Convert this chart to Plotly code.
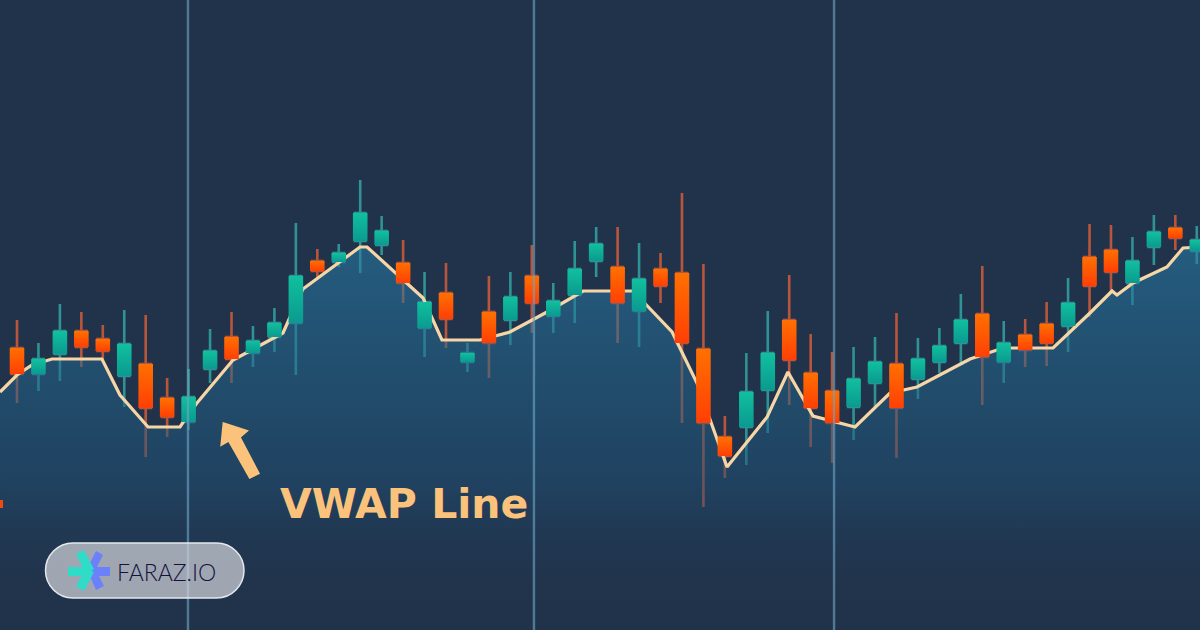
import plotly.graph_objects as go

W = 1200
H = 630

# candles, price runs 0-630 so the axis lines up with the 630px tall picture
sessions = list(range(56))
opens = [282, 256, 276, 299, 291, 254, 266, 232, 208, 261, 293, 277, 293, 307,
         369, 368, 389, 385, 367, 302, 337, 268, 318, 310, 354, 314, 335, 369,
         363, 319, 361, 357, 281, 193, 203, 240, 310, 257, 239, 223, 247, 266,
         251, 268, 287, 316, 268, 295, 306, 304, 373, 380, 347, 383, 402, 379]
closes = [256, 271, 299, 283, 279, 286, 222, 213, 233, 279, 271, 289, 307, 354,
          359, 377, 417, 399, 347, 328, 311, 277, 287, 333, 327, 329, 361, 386,
          327, 351, 344, 287, 207, 174, 238, 277, 270, 222, 207, 251, 268, 222,
          271, 284, 310, 273, 287, 280, 287, 327, 344, 358, 369, 398, 392, 390]
highs = [310, 287, 326, 318, 305, 320, 315, 252, 261, 301, 318, 304, 322, 407,
         381, 386, 450, 414, 390, 358, 367, 287, 354, 358, 385, 347, 389, 403,
         403, 387, 377, 437, 366, 214, 277, 319, 355, 296, 278, 283, 293, 317,
         292, 302, 336, 364, 309, 311, 328, 352, 406, 405, 393, 415, 415, 404]
lows = [227, 239, 249, 263, 270, 223, 173, 193, 200, 247, 247, 263, 278, 255,
        352, 363, 357, 375, 327, 273, 282, 258, 252, 285, 297, 297, 307, 353,
        287, 283, 327, 207, 123, 152, 165, 197, 225, 183, 167, 190, 223, 172,
        231, 257, 267, 225, 247, 263, 264, 278, 313, 337, 325, 365, 380, 366]

vwap_x = [-0.79, 0, 0.7, 1.63, 3.96, 4.8, 6.11, 7.6, 7.97, 8.39, 10.07, 12.4,
          12.73, 13.33, 15.99, 16.32, 18.93, 19.81, 21.59, 22.98, 24.71, 25.92,
          26.39, 28.72, 30.54, 31.7, 33.1, 34.97, 35.94, 37.11, 39.07, 40.7,
          41.96, 44.43, 45.69, 46.29, 48.3, 50.02, 51.05, 51.28, 52.03, 53.61,
          54.36, 55.15]
vwap = [238, 255, 265, 271, 271, 235, 203, 203, 215, 227, 270, 297, 313, 341,
        383, 383, 332, 290, 290, 298, 318, 333, 339, 339, 298, 247, 163, 213,
        258, 214, 203, 237, 243, 271, 280, 282, 282, 317, 339, 335, 347, 363,
        382, 383]

session_marks = [7.97, 24.1, 38.09]

BG = '#21334b'
PEACH = '#fbc27c'
VWAP_COLOR = '#f6d5a6'
BODY_HALF = 0.34


def px(x):
    return x / W


def py(y):
    return 1 - y / H


def poly(points):
    return 'M ' + ' L '.join(f'{px(x):.5f},{py(y):.5f}' for x, y in points) + ' Z'


def pill(x0, y0, x1, y1):
    r = (y1 - y0) / 2
    k = r * 0.45
    return (f'M {px(x0 + r):.5f},{py(y0):.5f} L {px(x1 - r):.5f},{py(y0):.5f} '
            f'C {px(x1 - k):.5f},{py(y0):.5f} {px(x1):.5f},{py(y0 + k):.5f} {px(x1):.5f},{py(y0 + r):.5f} '
            f'C {px(x1):.5f},{py(y1 - k):.5f} {px(x1 - k):.5f},{py(y1):.5f} {px(x1 - r):.5f},{py(y1):.5f} '
            f'L {px(x0 + r):.5f},{py(y1):.5f} '
            f'C {px(x0 + k):.5f},{py(y1):.5f} {px(x0):.5f},{py(y1 - k):.5f} {px(x0):.5f},{py(y0 + r):.5f} '
            f'C {px(x0):.5f},{py(y0 + k):.5f} {px(x0 + k):.5f},{py(y0):.5f} {px(x0 + r):.5f},{py(y0):.5f} Z')


fig = go.Figure()

# wicks, sits under the area so the lower parts fade out like the original
fig.add_trace(go.Candlestick(x=sessions, open=opens, high=highs, low=lows, close=closes,
                             increasing=dict(line=dict(color='#2f9294', width=2.6),
                                             fillcolor='#2f9294'),
                             decreasing=dict(line=dict(color='#b8563c', width=2.6),
                                             fillcolor='#b8563c'),
                             whiskerwidth=0,
                             hoverinfo='skip',
                             showlegend=False))

# area stays see-through so the wicks still show below the line
fig.add_trace(go.Scatter(x=vwap_x, y=vwap,
                         mode='lines',
                         line=dict(color=VWAP_COLOR, width=3.2),
                         fill='tozeroy',
                         fillgradient=dict(type='vertical',
                                           start=20, stop=380,
                                           colorscale=[[0, 'rgba(33,51,75,0)'],
                                                       [0.35, 'rgba(31,81,117,0.5)'],
                                                       [1, 'rgba(39,125,168,0.55)']]),
                         hoverinfo='skip',
                         showlegend=False))

# candle bodies on top, one trace each because of the gradient
for i in sessions:
    top = max(opens[i], closes[i])
    bottom = min(opens[i], closes[i])
    if closes[i] > opens[i]:
        scale = [[0, '#0b9a90'], [1, '#10c09e']]
    else:
        scale = [[0, '#ff3f05'], [1, '#ff7000']]
    fig.add_trace(go.Scatter(x=[i - BODY_HALF, i + BODY_HALF, i + BODY_HALF, i - BODY_HALF, i - BODY_HALF],
                             y=[bottom, bottom, top, top, bottom],
                             mode='lines',
                             line=dict(width=0),
                             fill='toself',
                             fillgradient=dict(type='vertical', colorscale=scale),
                             hoverinfo='skip',
                             showlegend=False))

shapes = []
for mark in session_marks:
    shapes.append(dict(type='line', xref='x', yref='paper', x0=mark, x1=mark, y0=0, y1=1,
                       line=dict(color='rgba(110,165,195,0.62)', width=2.4)))

# arrow
shapes.append(dict(type='path', xref='paper', yref='paper',
                   path=poly([(224, 424), (246, 431), (239, 437), (258, 473), (250, 477),
                              (229, 440), (222, 444)]),
                   fillcolor=PEACH, line=dict(color=PEACH, width=3)))

# left edge chip
shapes.append(dict(type='rect', xref='paper', yref='paper',
                   x0=px(0), x1=px(3), y0=py(508), y1=py(500),
                   fillcolor='#f04a12', line=dict(width=0)))

# logo
shapes.append(dict(type='path', xref='paper', yref='paper',
                   path=pill(45.5, 543, 244, 598),
                   fillcolor='rgba(208,210,218,0.72)',
                   line=dict(color='#e4e8ee', width=1.5)))
blue_arms = [[(90, 567), (110, 567), (110, 576), (90, 576)],
             [(96, 551), (103, 555), (95, 571), (88, 567)],
             [(89, 574), (96, 570), (104, 586), (96, 590)]]
teal_arms = [[(68, 567), (90, 567), (90, 576), (68, 576)],
             [(76, 554), (84, 550), (94, 569), (86, 574)],
             [(86, 568), (94, 572), (84, 591), (76, 586)]]
for arm in blue_arms:
    shapes.append(dict(type='path', xref='paper', yref='paper', path=poly(arm),
                       fillcolor='#6b80fb', line=dict(width=0)))
for arm in teal_arms:
    shapes.append(dict(type='path', xref='paper', yref='paper', path=poly(arm),
                       fillcolor='#2fdcc8', line=dict(width=0)))

annotations = [
    dict(text='<b>VWAP Line</b>', xref='paper', yref='paper',
         x=px(404), y=py(504), xanchor='center', yanchor='middle', showarrow=False,
         font=dict(family='DejaVu Sans', size=41, color=PEACH)),
    dict(text='FARAZ.IO', xref='paper', yref='paper',
         x=px(166), y=py(572), xanchor='center', yanchor='middle', showarrow=False,
         font=dict(family='Lato', size=23, color='#12123f', weight=300)),
]

fig.update_layout(width=W, height=H,
                  margin=dict(l=0, r=0, t=0, b=0),
                  paper_bgcolor=BG,
                  plot_bgcolor=BG,
                  showlegend=False,
                  hovermode=False,
                  shapes=shapes,
                  annotations=annotations,
                  xaxis=dict(range=[-0.7925, 55.15], visible=False, fixedrange=True,
                             rangeslider=dict(visible=False)),
                  yaxis=dict(range=[0, 630], visible=False, fixedrange=True))

# drop the browser's default body margin, the figure has to fill the window
fig.write_html("out.html", config=dict(displayModeBar=False),
               post_script="document.body.style.margin='0';document.body.style.overflow='hidden';")
